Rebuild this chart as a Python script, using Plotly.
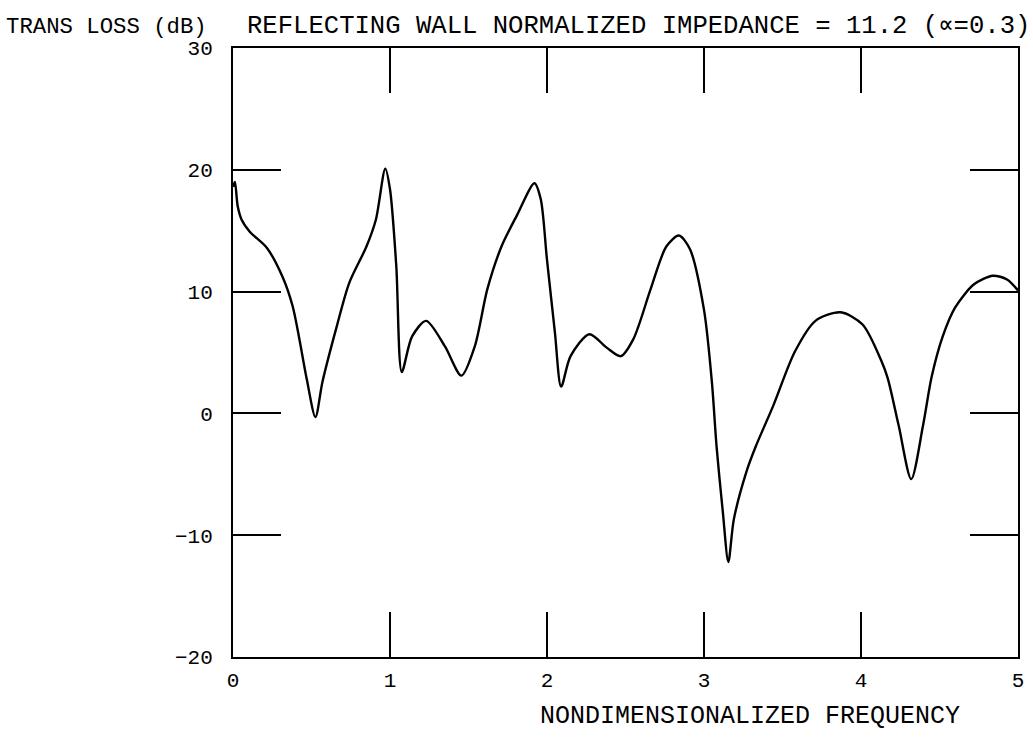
import plotly.graph_objects as go

# ---- data ----
freq = [0.000, 0.012, 0.030, 0.055, 0.108, 0.215, 0.316, 0.380, 0.420, 0.470,
        0.525, 0.570, 0.660, 0.740, 0.850, 0.910, 0.970, 1.000, 1.040, 1.075,
        1.140, 1.230, 1.350, 1.455, 1.540, 1.620, 1.710, 1.810, 1.920, 1.960,
        2.000, 2.050, 2.090, 2.150, 2.270, 2.380, 2.470, 2.550, 2.660, 2.760,
        2.840, 2.910, 3.000, 3.050, 3.080, 3.120, 3.155, 3.190, 3.270, 3.330,
        3.440, 3.580, 3.710, 3.870, 4.010, 4.130, 4.170, 4.240, 4.320, 4.395,
        4.450, 4.520, 4.600, 4.720, 4.840, 4.930, 5.000]
trans_loss = [18.6, 19.0, 17.0, 15.9, 14.9, 13.6, 11.2, 8.8, 6.3, 2.8,
              -0.3, 2.6, 7.1, 10.7, 13.7, 15.9, 20.1, 18.4, 12.1, 3.4,
              6.3, 7.6, 5.5, 3.1, 5.5, 10.2, 13.7, 16.3, 18.9, 17.6,
              12.6, 6.7, 2.2, 4.7, 6.5, 5.4, 4.7, 6.1, 10.2, 13.7,
              14.6, 13.5, 8.5, 2.6, -2.7, -8.1, -12.2, -8.7, -4.8, -2.7,
              0.6, 5.1, 7.6, 8.3, 7.3, 4.3, 2.9, -1.0, -5.4, -1.0,
              3.0, 6.3, 8.7, 10.6, 11.3, 11.0, 10.1]

x_ticks = [0, 1, 2, 3, 4, 5]
y_ticks = [-20, -10, 0, 10, 20, 30]

y_title = "TRANS LOSS (dB)"
main_title = "REFLECTING WALL NORMALIZED IMPEDANCE = 11.2 (\u221d=0.3)"
x_title = "NONDIMENSIONALIZED FREQUENCY"

# ---- layout geometry ----
W, H = 1033, 738
L, R, T, B = 233, 9, 48, 81
PW, PH = W - L - R, H - T - B
FONT = "Liberation Mono, DejaVu Sans Mono, monospace"


def px_x(px):
    return (px - L) / PW


def px_y(py):
    return (H - B - py) / PH


fig = go.Figure()
fig.add_trace(go.Scatter(
    x=freq, y=trans_loss, mode="lines",
    line=dict(color="black", width=2.4, shape="spline", smoothing=0.8),
    showlegend=False, hoverinfo="skip",
))

axis_common = dict(
    showline=True, linecolor="black", linewidth=2, mirror="allticks",
    ticks="inside", tickcolor="black", tickwidth=2,
    showgrid=False, zeroline=False,
    tickfont=dict(family=FONT, size=21, color="black"),
)

fig.update_xaxes(range=[0, 5], tickvals=x_ticks, ticklen=45,
                 ticklabelstandoff=3, **axis_common)
fig.update_yaxes(range=[-20, 30], tickvals=y_ticks, ticklen=48,
                 ticklabelstandoff=14, **axis_common)

fig.update_layout(
    width=W, height=H,
    margin=dict(l=L, r=R, t=T, b=B, pad=0),
    paper_bgcolor="white", plot_bgcolor="white",
    font=dict(family=FONT, color="black"),
    annotations=[
        dict(text=y_title, xref="paper", yref="paper", x=px_x(2), y=px_y(27),
             xanchor="left", yanchor="middle", showarrow=False,
             font=dict(family=FONT, size=22.3, color="black")),
        dict(text=main_title, xref="paper", yref="paper", x=px_x(245), y=px_y(27),
             xanchor="left", yanchor="middle", showarrow=False,
             font=dict(family=FONT, size=25.6, color="black")),
        dict(text=x_title, xref="paper", yref="paper", x=px_x(754), y=px_y(716),
             xanchor="center", yanchor="middle", showarrow=False,
             font=dict(family=FONT, size=25, color="black")),
    ],
)

fig.write_html("out.html")
